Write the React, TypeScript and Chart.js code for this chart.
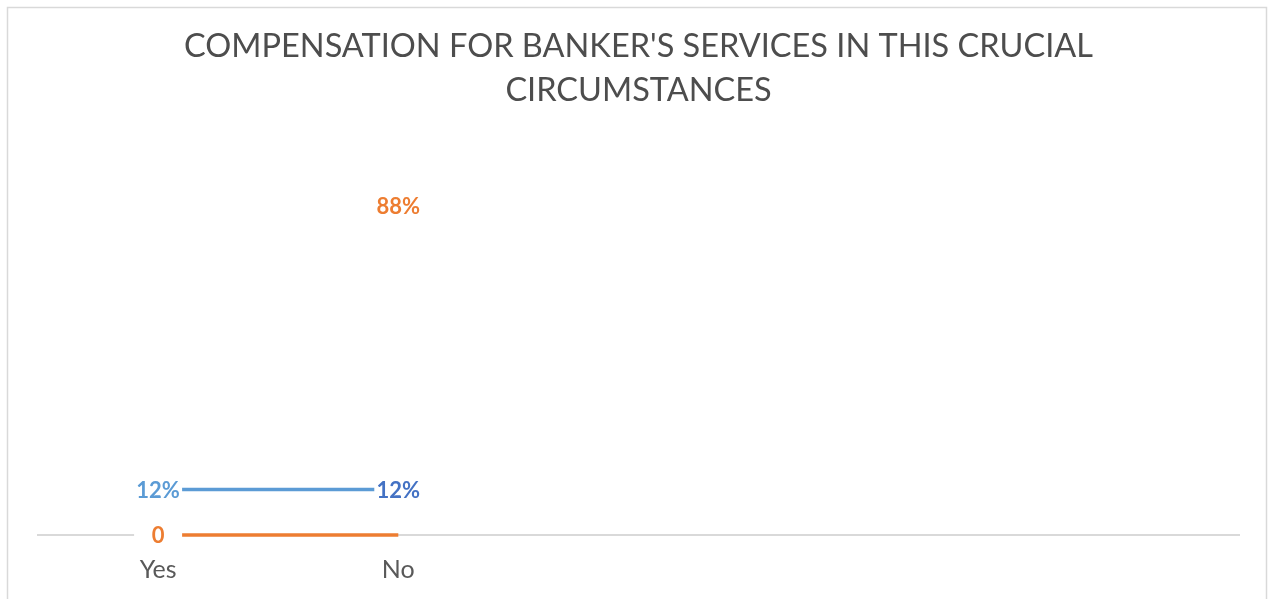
import React, { useEffect, useRef } from "react";
import { Chart, registerables } from "chart.js";

Chart.register(...registerables);

const categories = ["Yes", "No", "", "", ""];
const blueValues = [0.12, 0.12];
const blueLabels = ["12%", "12%"];
const blueLabelColors = ["#5b9bd5", "#4472c4"];
const orangeValues = [0, 0];
const orangeLabels = ["0", null];
const noteValues = [null, 0.88];
const noteLabels = [null, "88%"];
const titleLines = ["COMPENSATION FOR BANKER'S SERVICES IN THIS CRUCIAL", "CIRCUMSTANCES"];

const FONT = "Lato";

const borderPlugin = {
  id: "outerBorder",
  beforeDraw(chart: any) {
    const ctx = chart.ctx;
    ctx.save();
    ctx.strokeStyle = "#d9d9d9";
    ctx.lineWidth = 1.5;
    ctx.strokeRect(7.5, 7.5, chart.width - 9, chart.height + 50);
    ctx.restore();
  },
};

const labelPlugin = {
  id: "pointLabels",
  afterDatasetsDraw(chart: any) {
    const ctx = chart.ctx;
    ctx.save();
    chart.data.datasets.forEach((ds: any, di: number) => {
      const meta = chart.getDatasetMeta(di);
      const texts: (string | null)[] = ds.pointLabels || [];
      meta.data.forEach((pt: any, i: number) => {
        const t = texts[i];
        if (!t) return;
        const colors = ds.pointLabelColors;
        const color = Array.isArray(colors) ? colors[i] : colors;
        const x = pt.x;
        const y = pt.y + (ds.labelOffsetY || 0);
        if (ds.labelMask) {
          ctx.fillStyle = "#ffffff";
          ctx.fillRect(x - 24, y - 12, 48, 24);
        }
        ctx.font = `bold 22px ${FONT}`;
        ctx.fillStyle = color;
        ctx.textAlign = "center";
        ctx.textBaseline = "middle";
        ctx.fillText(t, x, y + 1);
      });
    });
    ctx.restore();
  },
};

export default function App() {
  const ref = useRef<HTMLCanvasElement>(null);
  useEffect(() => {
    const chart = new Chart(ref.current as HTMLCanvasElement, {
      type: "line",
      data: {
        labels: categories,
        datasets: [
          {
            label: "Orange",
            data: orangeValues,
            borderColor: "#ed7d31",
            borderWidth: 3.5,
            pointRadius: 0,
            clip: false,
            pointLabels: orangeLabels,
            pointLabelColors: "#ed7d31",
            labelMask: true,
          } as any,
          {
            label: "Blue",
            data: blueValues,
            borderColor: "#5b9bd5",
            borderWidth: 3.5,
            pointRadius: 0,
            clip: false,
            pointLabels: blueLabels,
            pointLabelColors: blueLabelColors,
            labelMask: true,
          } as any,
          {
            label: "Note",
            data: noteValues,
            showLine: false,
            pointRadius: 0,
            pointLabels: noteLabels,
            pointLabelColors: "#ed7d31",
            labelOffsetY: 4,
          } as any,
        ],
      },
      options: {
        animation: false,
        responsive: false,
        devicePixelRatio: 1,
        layout: { padding: { left: 38, right: 29, top: 8, bottom: 0 } },
        plugins: {
          legend: { display: false },
          tooltip: { enabled: false },
          title: {
            display: true,
            text: titleLines,
            color: "#4d4d4d",
            font: { family: FONT, size: 32.5, weight: "normal", lineHeight: 44 / 32.5 },
            padding: { top: 17, bottom: 43 },
          },
        },
        scales: {
          x: {
            offset: true,
            grid: { display: false, drawTicks: false },
            border: { display: true, color: "#d9d9d9", width: 2 },
            ticks: { color: "#595959", font: { family: FONT, size: 25 }, padding: 20 },
            afterFit: (s: any) => {
              s.height = 64;
            },
          },
          y: { display: false, min: 0, max: 1 },
        },
      },
      plugins: [borderPlugin, labelPlugin],
    });
    return () => chart.destroy();
  }, []);
  return (
    <div style={{ position: "absolute", left: 0, top: 0, width: 1268, height: 599, background: "#fff" }}>
      <canvas ref={ref} width={1268} height={599} style={{ display: "block" }} />
    </div>
  );
}
